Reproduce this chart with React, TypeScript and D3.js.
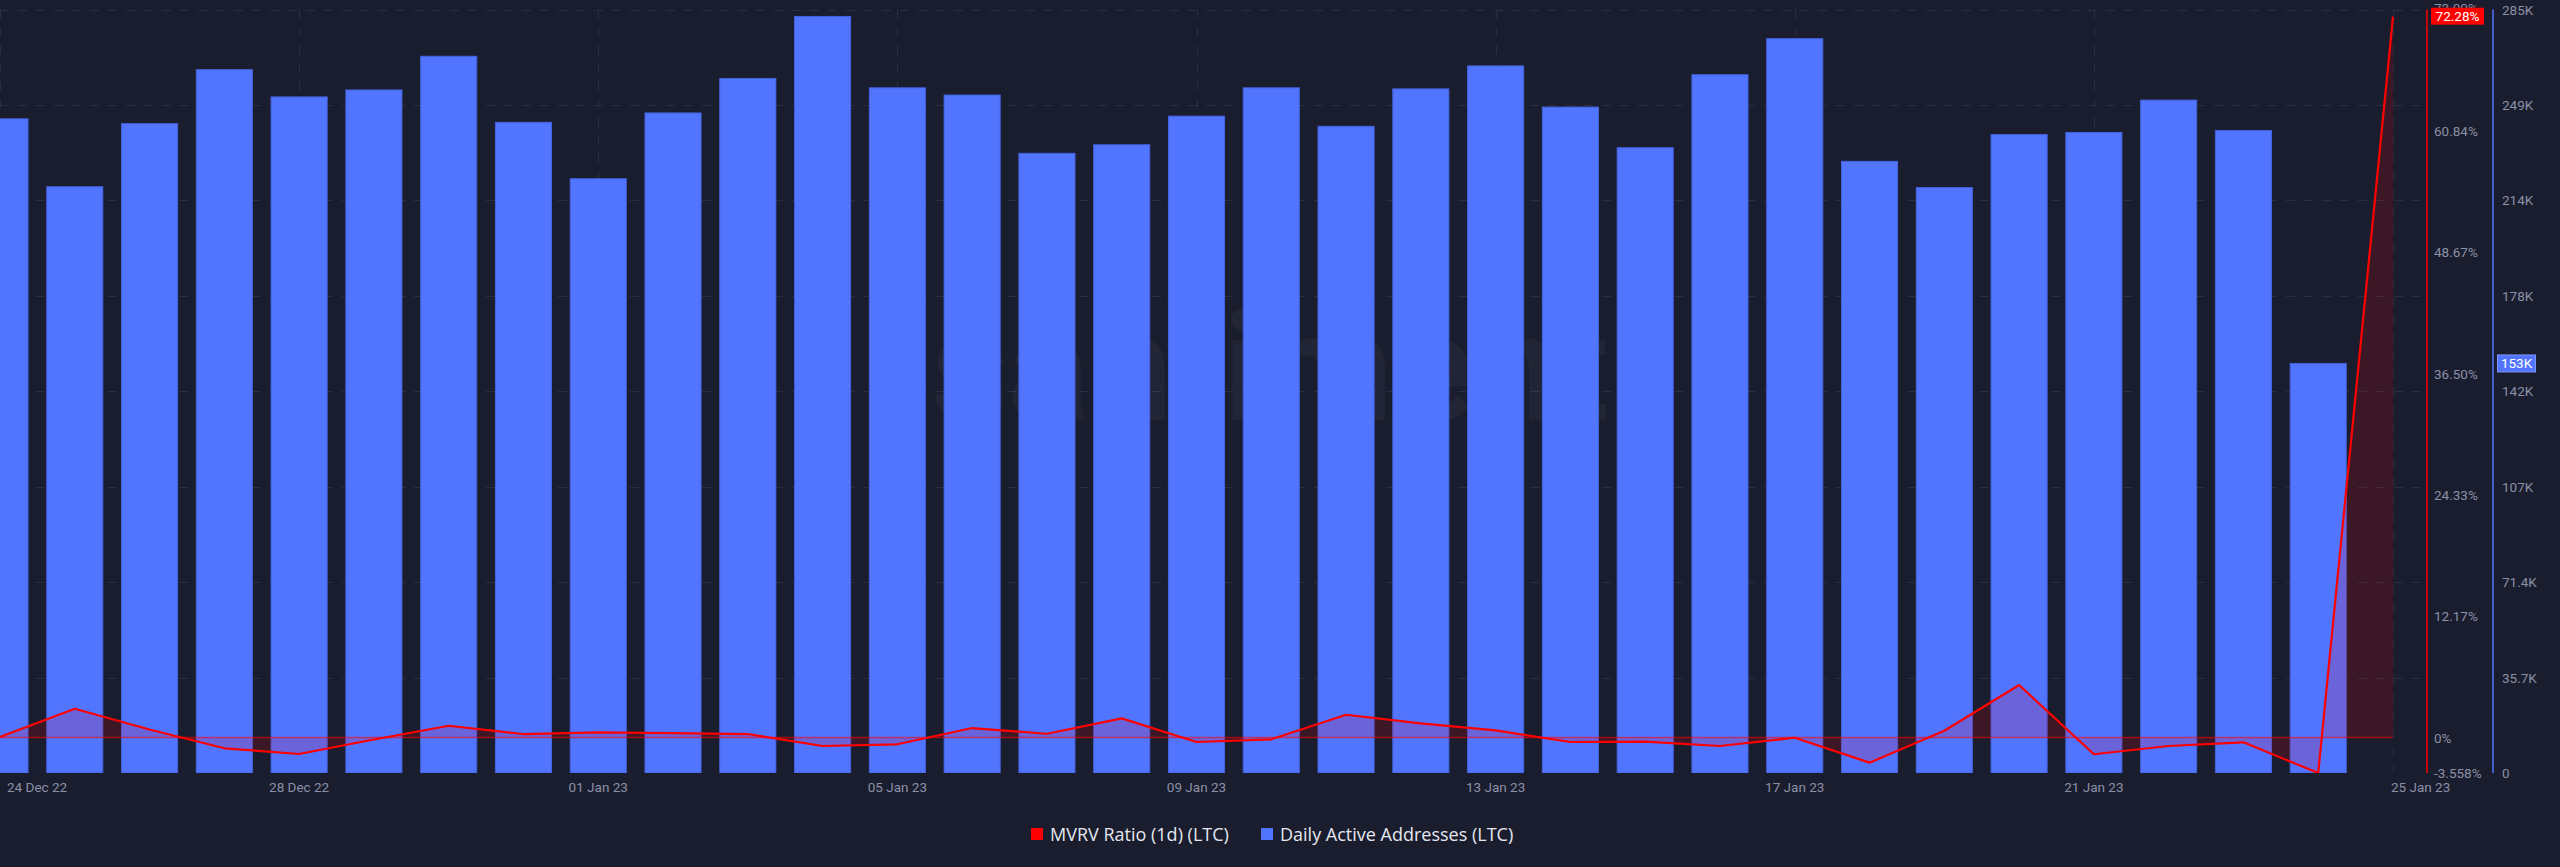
import React, { useEffect } from "react";
import * as d3 from "d3";

const W = 2560;
const H = 867;

// Daily Active Addresses (LTC), thousands, 24 Dec 22 .. 24 Jan 23
const activeAddresses = [
  244.7, 219.3, 242.9, 263.1, 252.9, 255.5, 268.1, 243.4, 222.3, 246.9, 259.8, 283.0,
  256.3, 253.6, 231.8, 235.0, 245.7, 256.3, 241.9, 255.9, 264.5, 249.1, 233.9, 261.2,
  274.7, 228.8, 219.0, 238.8, 239.6, 251.7, 240.3, 153.2,
];

// MVRV Ratio (1d) (LTC), percent, 24 Dec 22 .. 25 Jan 23
const mvrv = [
  0.05, 2.89, 0.8, -1.08, -1.65, -0.2, 1.18, 0.35, 0.52, 0.45, 0.35, -0.85,
  -0.68, 0.95, 0.38, 1.92, -0.45, -0.18, 2.28, 1.42, 0.72, -0.45, -0.42, -0.85,
  -0.02, -2.52, 0.68, 5.26, -1.68, -0.85, -0.48, -3.558, 72.28,
];

const startDate = new Date(2022, 11, 24);
const endDate = new Date(2023, 0, 25);

const blueTicks = [0, 35.7, 71.4, 107.1, 142.8, 178.5, 214.2, 249.9, 285.6];
const blueTickLabels = ["0", "35.7K", "71.4K", "107K", "142K", "178K", "214K", "249K", "285K"];
const redTicks = [0, 12.17, 24.33, 36.5, 48.67, 60.84, 73.0];
const redTickLabels = ["0%", "12.17%", "24.33%", "36.50%", "48.67%", "60.84%", "73.00%"];
const redMin = -3.558;
const redMinLabel = "-3.558%";
const lastMvrvLabel = "72.28%";
const lastAddrLabel = "153K";

const legendItems = [
  { label: "MVRV Ratio (1d) (LTC)", color: "#ff0000" },
  { label: "Daily Active Addresses (LTC)", color: "#5275ff" },
];

const BG = "#1a1d2d";
const GRID = "#2a2e42";
const AXIS_TEXT = "#8a90a8";
const BAR = "#5275ff";
const FONT = "Roboto, 'Open Sans', sans-serif";

export default function App() {
  useEffect(() => {
    document.body.style.margin = "0";
    document.body.style.background = BG;
  }, []);

  const top = 9.5;
  const bottom = 773;
  const plotLeft = 0;
  const lastX = 2393;
  const redAxisX = 2427;
  const blueAxisX = 2493;

  const dates = d3.timeDay.range(startDate, d3.timeDay.offset(endDate, 1));
  const x = d3.scaleTime().domain([startDate, endDate]).range([plotLeft, lastX]);
  const step = x(dates[1]) - x(dates[0]);
  const barW = step * 0.75;

  const yBlue = d3.scaleLinear().domain([0, 285.6]).range([bottom, top]);
  const yRed = d3.scaleLinear().domain([redMin, 73.0]).range([bottom, top]);

  const mvrvPts = mvrv.map((v, i) => ({ d: dates[i], v }));
  const area = d3
    .area<{ d: Date; v: number }>()
    .x((p) => x(p.d))
    .y0(yRed(0))
    .y1((p) => yRed(p.v));
  const line = d3
    .line<{ d: Date; v: number }>()
    .x((p) => x(p.d))
    .y((p) => yRed(p.v));

  const tickDates = dates.filter((_, i) => i % 4 === 0);
  const fmt = d3.timeFormat("%d %b %y");

  const lastBarVal = activeAddresses[activeAddresses.length - 1];
  const lastMvrv = mvrv[mvrv.length - 1];

  return (
    <svg width={W} height={H} style={{ display: "block", background: BG }} fontFamily={FONT}>
      <defs>
        <clipPath id="plot">
          <rect x={plotLeft} y={0} width={redAxisX - plotLeft} height={bottom} />
        </clipPath>
      </defs>
      <rect x={0} y={0} width={W} height={H} fill={BG} />

      {/* grid */}
      <g stroke={GRID} strokeWidth={1} strokeDasharray="9 9">
        {blueTicks.slice(1).map((t) => (
          <line key={"h" + t} x1={plotLeft} x2={redAxisX} y1={Math.round(yBlue(t)) + 0.5} y2={Math.round(yBlue(t)) + 0.5} />
        ))}
        {tickDates.map((d, i) => (
          <line key={"v" + i} x1={Math.round(x(d)) + 0.5} x2={Math.round(x(d)) + 0.5} y1={top} y2={bottom} />
        ))}
      </g>

      {/* watermark */}
      <text x={1270} y={420} textAnchor="middle" fontSize={150} fontWeight={700} fill="#ffffff" opacity={0.035}>
        santiment
      </text>

      <g clipPath="url(#plot)">
        {/* bars */}
        {activeAddresses.map((v, i) => (
          <rect
            key={i}
            x={x(dates[i]) - barW / 2}
            y={yBlue(v)}
            width={barW}
            height={bottom - yBlue(v)}
            fill={BAR}
            stroke="#4463e0"
            strokeWidth={1}
          />
        ))}
        {/* mvrv area */}
        <path d={area(mvrvPts) || ""} fill="#ff0000" fillOpacity={0.15} />
        <line x1={plotLeft} x2={lastX} y1={yRed(0)} y2={yRed(0)} stroke="#ff0000" strokeOpacity={0.55} strokeWidth={1.5} />
        <path d={line(mvrvPts) || ""} fill="none" stroke="#ff0000" strokeWidth={2.2} strokeLinejoin="round" />
      </g>

      {/* right axes */}
      <line x1={redAxisX} x2={redAxisX} y1={top} y2={bottom} stroke="#ff0000" strokeWidth={1.5} />
      <line x1={blueAxisX} x2={blueAxisX} y1={top} y2={bottom} stroke={BAR} strokeWidth={1.5} />

      <g fontSize={13.5} fill={AXIS_TEXT} dominantBaseline="central">
        {redTicks.map((t, i) => (
          <text key={"r" + i} x={redAxisX + 7} y={i === redTicks.length - 1 ? 8 : yRed(t)}>
            {redTickLabels[i]}
          </text>
        ))}
        <text x={redAxisX + 7} y={yRed(redMin)}>{redMinLabel}</text>
        {blueTicks.map((t, i) => (
          <text key={"b" + i} x={blueAxisX + 9} y={yBlue(t)}>
            {blueTickLabels[i]}
          </text>
        ))}
      </g>

      {/* last value badges */}
      <g>
        <rect x={redAxisX + 4} y={yRed(lastMvrv) - 9} width={53} height={17} fill="#ff0000" />
        <text x={redAxisX + 30.5} y={yRed(lastMvrv) - 0.5} textAnchor="middle" dominantBaseline="central" fontSize={13.5} fill="#ffffff">
          {lastMvrvLabel}
        </text>
        <rect x={blueAxisX + 4.5} y={yBlue(lastBarVal) - 8.5} width={38} height={17} fill={BAR} stroke="#7f98ff" strokeWidth={1} />
        <text x={blueAxisX + 23.5} y={yBlue(lastBarVal)} textAnchor="middle" dominantBaseline="central" fontSize={13.5} fill="#ffffff">
          {lastAddrLabel}
        </text>
      </g>

      {/* x axis labels */}
      <g fontSize={13.5} fill={AXIS_TEXT} dominantBaseline="central">
        {tickDates.map((d, i) => {
          const isFirst = i === 0;
          const isLast = i === tickDates.length - 1;
          return (
            <text
              key={"x" + i}
              x={isFirst ? 7 : isLast ? x(d) - 2 : x(d)}
              y={787}
              textAnchor={isFirst || isLast ? "start" : "middle"}
            >
              {fmt(d)}
            </text>
          );
        })}
      </g>

      {/* legend */}
      <g fontSize={18} fill="#e4e7f0" fontFamily="'Open Sans', sans-serif">
        {(() => {
          const positions = [1031, 1261];
          return legendItems.map((it, i) => (
            <g key={it.label} transform={`translate(${positions[i]},828)`}>
              <rect x={0} y={0} width={12} height={12} fill={it.color} />
              <text x={19} y={6} dominantBaseline="central">
                {it.label}
              </text>
            </g>
          ));
        })()}
      </g>
    </svg>
  );
}
